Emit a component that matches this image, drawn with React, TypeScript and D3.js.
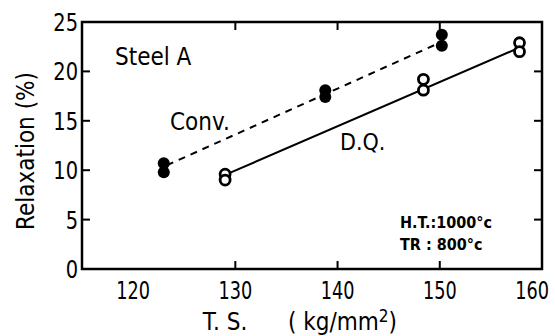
import React from "react";
import * as d3 from "d3";

// tensile strength (kg/mm2) and relaxation (%)
const convTS = [123, 123, 138.8, 138.8, 150.2, 150.2];
const convRelax = [10.7, 9.8, 18.1, 17.4, 23.7, 22.6];
const dqTS = [129, 129, 148.4, 148.4, 157.8, 157.8];
const dqRelax = [9.6, 9.0, 19.2, 18.1, 22.9, 22.0];

// fitted lines (end points)
const convFitTS = [123.3, 150.2];
const convFitRelax = [10.5, 23.0];
const dqFitTS = [129.4, 158];
const dqFitRelax = [9.7, 22.5];

const xTicks = [120, 130, 140, 150, 160];
const yTicks = [0, 5, 10, 15, 20, 25];

const width = 555;
const height = 336;
const margin = { top: 22, right: 13, bottom: 67, left: 82 };

const font = "'DejaVu Sans Condensed', 'DejaVu Sans', sans-serif";

const App = () => {
  const x = d3
    .scaleLinear()
    .domain([115, 160])
    .range([margin.left, width - margin.right]);
  const y = d3
    .scaleLinear()
    .domain([0, 25])
    .range([height - margin.bottom, margin.top]);

  const line = d3
    .line<[number, number]>()
    .x((d) => x(d[0]))
    .y((d) => y(d[1]));

  const convFit = convFitTS.map((t, i) => [t, convFitRelax[i]] as [number, number]);
  const dqFit = dqFitTS.map((t, i) => [t, dqFitRelax[i]] as [number, number]);

  const x0 = x.range()[0];
  const x1 = x.range()[1];
  const y0 = y.range()[0];
  const y1 = y.range()[1];
  const tick = 8;

  return (
    <svg
      width={width}
      height={height}
      style={{ position: "absolute", left: 0, top: 0, background: "#fff" }}
    >
      {/* frame */}
      <rect
        x={x0}
        y={y1}
        width={x1 - x0}
        height={y0 - y1}
        fill="none"
        stroke="#000"
        strokeWidth={2.5}
      />

      {/* inward ticks */}
      {xTicks.slice(1, -1).map((t) => (
        <g key={"xt" + t}>
          <line x1={x(t)} x2={x(t)} y1={y0} y2={y0 - tick} stroke="#000" strokeWidth={2} />
          <line x1={x(t)} x2={x(t)} y1={y1} y2={y1 + tick} stroke="#000" strokeWidth={2} />
        </g>
      ))}
      {yTicks.slice(1, -1).map((t) => (
        <g key={"yt" + t}>
          <line x1={x0} x2={x0 + tick} y1={y(t)} y2={y(t)} stroke="#000" strokeWidth={2} />
          <line x1={x1} x2={x1 - tick} y1={y(t)} y2={y(t)} stroke="#000" strokeWidth={2} />
        </g>
      ))}

      {/* tick labels (squeezed horizontally like the original lettering) */}
      {xTicks.map((t, i) => {
        const last = i === xTicks.length - 1;
        return (
          <text
            key={"xl" + t}
            transform={`translate(${last ? x(t) + 7 : x(t)},${y0 + 30}) scale(0.82,1)`}
            textAnchor={last ? "end" : "middle"}
            fontFamily={font}
            fontSize={24}
          >
            {t}
          </text>
        );
      })}
      {yTicks.map((t) => (
        <text
          key={"yl" + t}
          transform={`translate(${x0 - 4},${y(t) + 9}) scale(0.9,1)`}
          textAnchor="end"
          fontFamily={font}
          fontSize={24}
        >
          {t}
        </text>
      ))}

      {/* axis titles */}
      <text x={225} y={330} textAnchor="middle" fontFamily={font} fontSize={24}>
        T. S.
      </text>
      <text x={288} y={330} fontFamily={font} fontSize={24}>
        ( kg/mm<tspan dy={-8} fontSize={17}>2</tspan>
        <tspan dy={8}>)</tspan>
      </text>
      <text
        transform={`translate(34,151) rotate(-90)`}
        textAnchor="middle"
        fontFamily={font}
        fontSize={24}
      >
        Relaxation (%)
      </text>

      {/* fitted lines */}
      <path d={line(convFit) ?? ""} fill="none" stroke="#000" strokeWidth={2} strokeDasharray="7,6" />
      <path d={line(dqFit) ?? ""} fill="none" stroke="#000" strokeWidth={2} />

      {/* points */}
      {convTS.map((t, i) => (
        <circle key={"c" + i} cx={x(t)} cy={y(convRelax[i])} r={6} fill="#000" />
      ))}
      {dqTS.map((t, i) => (
        <circle
          key={"d" + i}
          cx={x(t)}
          cy={y(dqRelax[i])}
          r={5}
          fill="#fff"
          stroke="#000"
          strokeWidth={2.8}
        />
      ))}

      {/* annotations */}
      <text x={115} y={65} fontFamily={font} fontSize={24}>
        Steel A
      </text>
      <text x={170} y={130} fontFamily={font} fontSize={24}>
        Conv.
      </text>
      <text x={340} y={150} fontFamily={font} fontSize={23}>
        D.Q.
      </text>
      <text x={400} y={228} fontFamily={font} fontSize={16} fontWeight="bold">
        H.T.:1000°c
      </text>
      <text x={400} y={250} fontFamily={font} fontSize={16} fontWeight="bold">
        TR : 800°c
      </text>
    </svg>
  );
};

export default App;
